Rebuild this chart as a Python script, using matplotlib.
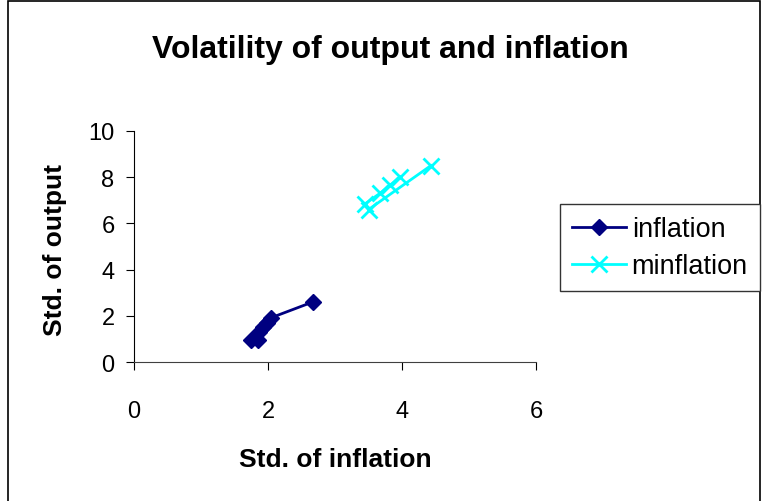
import numpy as np
import matplotlib.pyplot as plt
from matplotlib.patches import Rectangle

plt.rcParams['font.family'] = ['Liberation Sans', 'DejaVu Sans']

# data
infl_x = [1.75, 1.85, 1.80, 1.87, 1.93, 1.98, 2.05, 2.67]
infl_y = [0.95, 0.95, 1.10, 1.30, 1.50, 1.70, 1.92, 2.60]
minfl_x = [3.97, 3.82, 3.67, 3.45, 3.50, 4.43]
minfl_y = [8.00, 7.65, 7.30, 6.85, 6.60, 8.50]
x_ticks = [0, 2, 4, 6]
y_ticks = [0, 2, 4, 6, 8, 10]

fig = plt.figure(figsize=(7.63, 5.02), dpi=100)
W, H = 763, 502
ax = fig.add_axes([134 / W, 1 - 363 / H, (536 - 134) / W, (363 - 132) / H])

ax.plot(infl_x, infl_y, color='#000080', marker='D', markersize=8, lw=2, label='inflation')
ax.plot(minfl_x, minfl_y, color='#00FFFF', marker='x', markersize=12, mew=2, lw=2, label='minflation')

ax.set_xlim(0, 6)
ax.set_ylim(0, 10)
ax.set_xticks(x_ticks)
ax.set_yticks(y_ticks)
ax.tick_params(axis='x', direction='out', length=6, pad=21, labelsize=17)
ax.tick_params(axis='y', direction='out', length=6, pad=8, labelsize=17)
for s in ['top', 'right']:
    ax.spines[s].set_visible(False)
ax.spines['left'].set_color('black')
ax.spines['bottom'].set_color('#404040')

fig.text(390 / W, 1 - 50 / H, 'Volatility of output and inflation', ha='center', va='center',
         fontsize=23, fontweight='bold')
fig.text(335 / W, 1 - 460 / H, 'Std. of inflation', ha='center', va='center',
         fontsize=19, fontweight='bold')
fig.text(55 / W, 1 - 250 / H, 'Std. of output', ha='center', va='center', rotation=90,
         fontsize=19, fontweight='bold')

leg = fig.legend(loc='upper right', bbox_to_anchor=(760 / W, 1 - 205 / H), fontsize=19.5,
                 fancybox=False, edgecolor='#333333', framealpha=1, handlelength=2.0,
                 handletextpad=0.2, borderpad=0.45, labelspacing=0.4, borderaxespad=0)
leg.get_frame().set_linewidth(1)

fig.patches.append(Rectangle((8 / W, -0.02), (760 - 8) / W, 1.02 - 2 / H,
                             transform=fig.transFigure, fill=False, edgecolor='black', lw=1.2))

fig.savefig('out.png', dpi=100)
